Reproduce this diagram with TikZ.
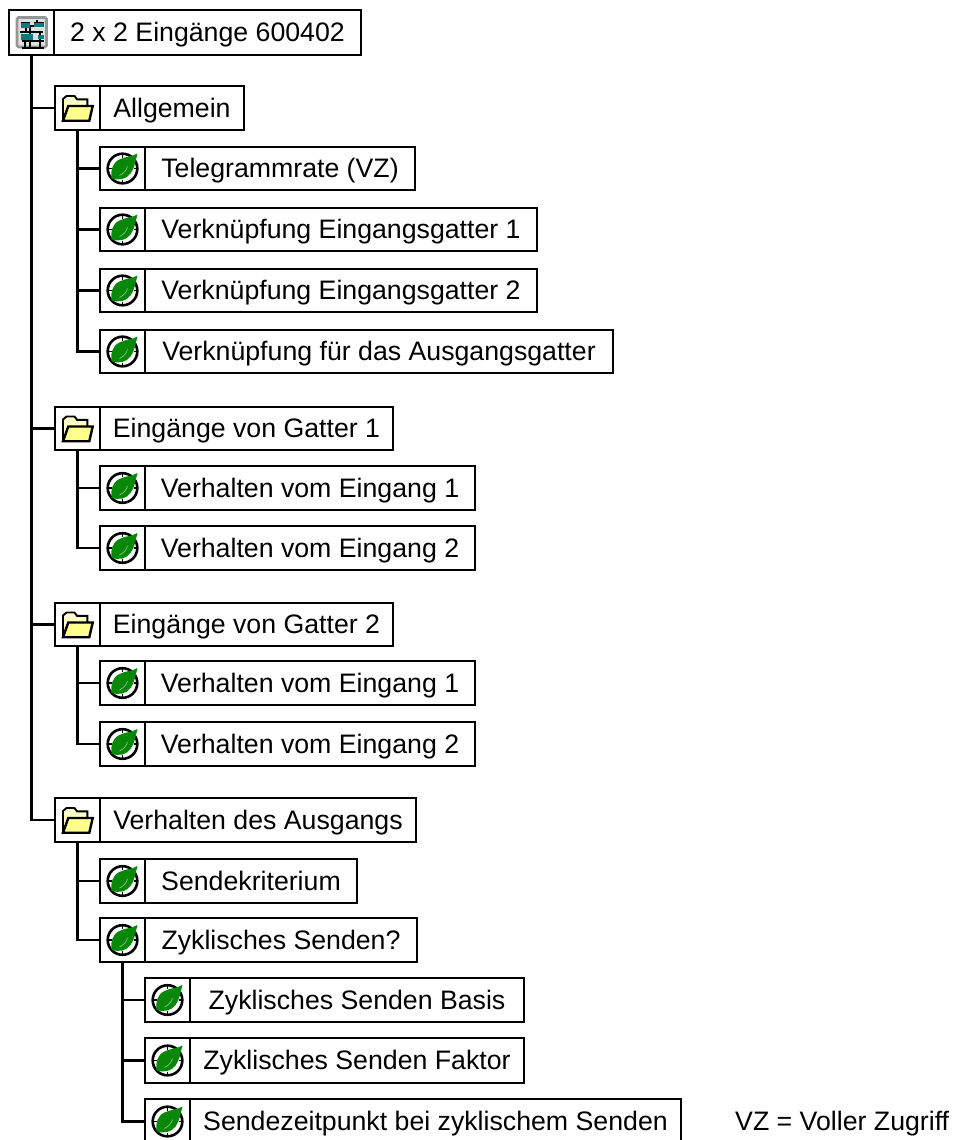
\documentclass[tikz,border=0pt]{standalone}
\usepackage{fontspec}
\setmainfont{Liberation Sans}
\definecolor{leafg}{RGB}{8,135,8}
\definecolor{foldy}{RGB}{255,255,140}
\definecolor{tealb}{RGB}{0,125,125}
\definecolor{frameg}{RGB}{150,150,150}
\tikzset{
  x=1pt,y=1pt,
  boxline/.style={draw=black,line width=1.8pt},
  iconbox/.style={boxline,anchor=north west,inner sep=0pt,outer sep=0pt,fill=white},
  textbox/.style={boxline,anchor=north west,inner sep=0pt,outer sep=0pt,fill=white,align=center,
    font=\fontsize{26.7pt}{30pt}\selectfont,text height=20pt,text depth=2pt},
  link/.style={draw=black,line width=2.3pt,line cap=butt},
  pics/leaficon/.style={code={
    \draw[black,line width=2.6pt] (0,0) circle (14.8);
    \foreach \a in {0,90,180,270} \draw[black,line width=1.4pt] (\a:14.8) -- (\a:11);
    \fill[leafg] (15,15) .. controls (10,12) and (3,12) .. (-3,9)
       .. controls (-10,6) and (-12,-2) .. (-11,-10)
       .. controls (-4,-12) and (4,-11) .. (8,-5)
       .. controls (12,0) and (13,8) .. (15,15) -- cycle;
    \draw[white!55!leafg,line width=0.6pt] (-3,-7) .. controls (1,-5) and (4,-2) .. (5,2);
  }},
  pics/foldericon/.style={code={
    \draw[black,line width=1.9pt,fill=foldy!45!white,line join=miter] (-14.5,-12.5) -- (-14.5,9) -- (-11,12) -- (-3,12) -- (-0.5,8.7) -- (9.8,8.7) -- (9.8,2) ;
    \draw[black,line width=2.4pt,fill=foldy,line join=miter] (-14.5,-12.7) -- (-9.2,2) -- (15.2,2) -- (11.8,-12.7) -- cycle;
  }},
  pics/rooticon/.style={code={
    \draw[frameg,line width=2.6pt,fill=white!88!black,rounded corners=1.5pt] (-14.5,-14.5) rectangle (15,15);
    \draw[black,line width=2pt] (-6,10) -- (-6,0) (5,12) -- (5,6) -- (-2,6) -- (-2,-16) (-12,0) -- (11,0) (-10,-9) -- (12,-9) (8,0) -- (8,-16) (-7,-9) -- (-7,-16) (-10,-15.5) -- (12,-15.5);
    \draw[black,line width=1pt] (-11,10) -- (-2,10) (2,10) -- (12,10);
    \fill[tealb] (-11,9.5) rectangle (-2,4);
    \fill[tealb] (2,9.5) rectangle (12,5);
    \fill[tealb] (-11,-2) rectangle (1,-8);
    \fill[tealb] (6,-3) rectangle (12,-7);
  }}
}
% name, left x, top y, bottom y, right x, icon pic, text
\newcommand{\treebox}[7]{%
  \node[iconbox,minimum width=45pt,minimum height=#4pt-#3pt] (#1) at (#2,-#3) {};
  \node[textbox,minimum width=#5pt-#2pt-45pt,minimum height=#4pt-#3pt] (#1t) at (#2+45,-#3) {#7};
  \pic at (#1.center) {#6};
}
\begin{document}
\begin{tikzpicture}
\useasboundingbox (0,0) rectangle (954,-1140);
\fill[white] (0,0) rectangle (954,-1140);

\treebox{root}{9}{10}{55}{361}{rooticon}{2 x 2 Eingänge 600402}

\treebox{f1}{55}{86}{130}{244}{foldericon}{Allgemein}
\treebox{a1}{100}{147}{190}{415}{leaficon}{Telegrammrate (VZ)}
\treebox{a2}{100}{208}{251}{537}{leaficon}{Verknüpfung Eingangsgatter 1}
\treebox{a3}{100}{269}{312}{537}{leaficon}{Verknüpfung Eingangsgatter 2}
\treebox{a4}{100}{330}{373}{613}{leaficon}{Verknüpfung für das Ausgangsgatter}

\treebox{f2}{55}{407}{450}{393}{foldericon}{Eingänge von Gatter 1}
\treebox{b1}{100}{466}{510}{475}{leaficon}{Verhalten vom Eingang 1}
\treebox{b2}{100}{526}{570}{475}{leaficon}{Verhalten vom Eingang 2}

\treebox{f3}{55}{603}{646}{393}{foldericon}{Eingänge von Gatter 2}
\treebox{c1}{100}{661}{705}{475}{leaficon}{Verhalten vom Eingang 1}
\treebox{c2}{100}{722}{766}{475}{leaficon}{Verhalten vom Eingang 2}

\treebox{f4}{55}{798}{842}{416}{foldericon}{Verhalten des Ausgangs}
\treebox{d1}{100}{859}{903}{357}{leaficon}{Sendekriterium}
\treebox{d2}{100}{918}{962}{417}{leaficon}{Zyklisches Senden?}
\treebox{e1}{145}{978}{1022}{524}{leaficon}{Zyklisches Senden Basis}
\treebox{e2}{145}{1038}{1083}{524}{leaficon}{Zyklisches Senden Faktor}
\treebox{e3}{145}{1099}{1144}{681}{leaficon}{Sendezeitpunkt bei zyklischem Senden}

\foreach \p/\c in {root/f1,root/f2,root/f3,root/f4,
  f1/a1,f1/a2,f1/a3,f1/a4,f2/b1,f2/b2,f3/c1,f3/c2,f4/d1,f4/d2,d2/e1,d2/e2,d2/e3}
  \draw[link] (\p.south) |- (\c.west);

\node[anchor=base west,inner sep=0pt,font=\fontsize{26.7pt}{30pt}\selectfont] (note) at (735,-1130) {VZ = Voller Zugriff};
\end{tikzpicture}
\end{document}
